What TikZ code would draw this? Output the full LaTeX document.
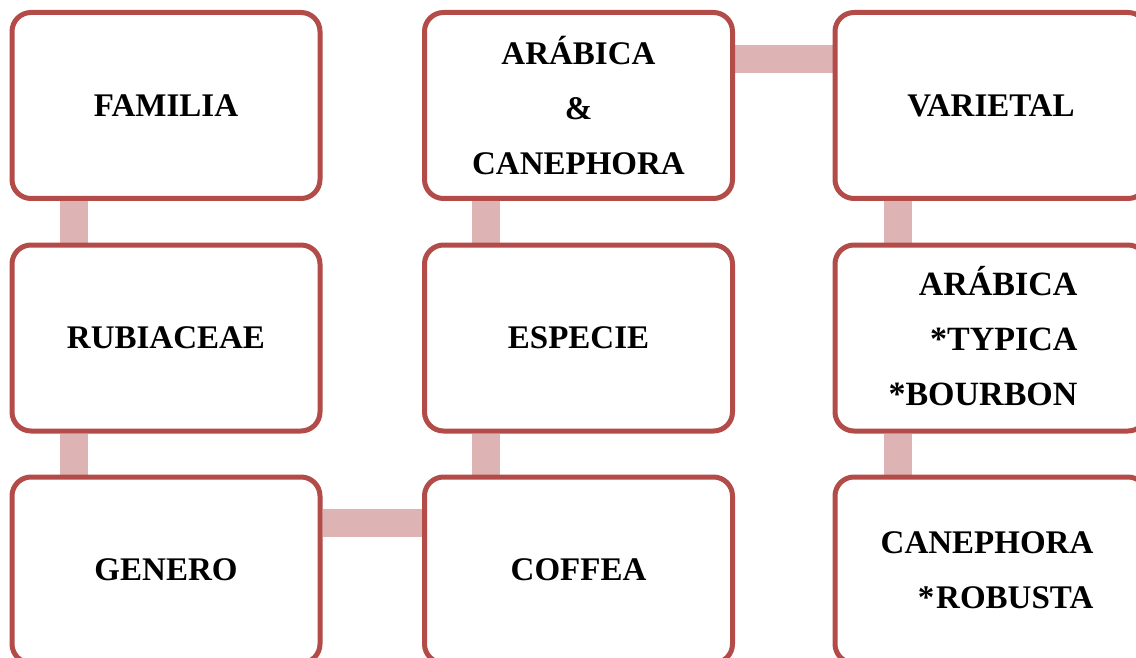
\documentclass[tikz,border=0pt]{standalone}
\usepackage{fontspec}
\setmainfont{Liberation Serif}
\usetikzlibrary{backgrounds}
\definecolor{bordc}{HTML}{B34B48}
\definecolor{connc}{HTML}{DDB4B3}
\begin{document}
\begin{tikzpicture}[x=1pt,y=-1pt,
  box/.style={draw=bordc, line width=5pt, rounded corners=19pt, fill=white,
    minimum width=308pt, minimum height=186pt, inner sep=0pt, align=center,
    font=\bfseries\fontsize{33}{55}\selectfont},
  lbl/.style={align=right, inner sep=0pt, font=\bfseries\fontsize{34}{55}\selectfont},
  conn/.style={draw=connc, line width=28pt}]
\useasboundingbox (0,0) rectangle (1136,658);
\clip (0,0) rectangle (1136,658);
% column 1
\node[box] (fam) at (166,105.5) {FAMILIA};
\node[box] (rub) at (166,338) {RUBIACEAE};
\node[box] (gen) at (166,570) {GENERO};
% column 2
\node[box] (ara) at (578.5,105.5) {ARÁBICA\\\&\\CANEPHORA};
\node[box] (esp) at (578.5,338) {ESPECIE};
\node[box] (cof) at (578.5,570) {COFFEA};
% column 3
\node[box, minimum width=312pt] (var) at (991,105.5) {VARIETAL};
\node[box, minimum width=312pt,
  label={[lbl, xshift=-8pt, yshift=2pt]center:ARÁBICA\\*TYPICA\\*BOURBON}] (arv) at (991,338) {};
\node[box, minimum width=312pt,
  label={[lbl, xshift=-4pt, font=\bfseries\fontsize{33}{55}\selectfont]center:CANEPHORA\\*\kern2pt ROBUSTA}] (can) at (991,570) {};
\begin{scope}[on background layer]
\fill[white] (0,0) rectangle (1136,658);
\draw[conn] ([xshift=-92pt]fam.south) -- ([xshift=-92pt]rub.north);
\draw[conn] ([xshift=-92pt]rub.south) -- ([xshift=-92pt]gen.north);
\draw[conn] ([yshift=47pt]gen.east) -- ([yshift=47pt]cof.west);
\draw[conn] ([xshift=-92.5pt]cof.north) -- ([xshift=-92.5pt]esp.south);
\draw[conn] ([xshift=-92.5pt]esp.north) -- ([xshift=-92.5pt]ara.south);
\draw[conn] ([yshift=46.5pt]ara.east) -- ([yshift=46.5pt]var.west);
\draw[conn] ([xshift=-93pt]var.south) -- ([xshift=-93pt]arv.north);
\draw[conn] ([xshift=-93pt]arv.south) -- ([xshift=-93pt]can.north);
\end{scope}
\end{tikzpicture}
\end{document}
